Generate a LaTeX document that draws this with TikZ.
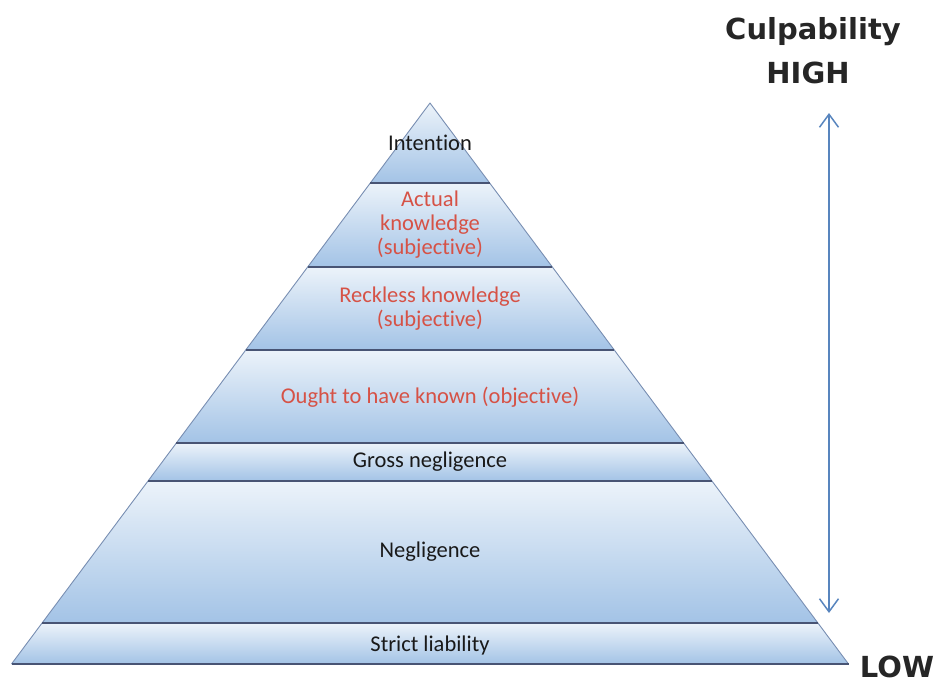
\documentclass[tikz,border=0pt]{standalone}
\usepackage{fontspec}
\setmainfont{Carlito}[Ligatures={NoCommon,NoContextual}]
\newfontfamily\headfont{DejaVu Sans}
\usetikzlibrary{arrows.meta}

\definecolor{bandtop}{RGB}{236,243,250}
\definecolor{bandbot}{RGB}{163,195,230}
\definecolor{bandedge}{RGB}{120,142,178}
\definecolor{bandline}{RGB}{72,84,116}
\definecolor{culpred}{RGB}{214,82,70}
\definecolor{scaleblue}{RGB}{88,133,190}

\tikzset{
  band/.style={top color=bandtop, bottom color=bandbot},
  bandout/.style={draw=bandedge, line width=0.9pt, line join=round},
  sep/.style={draw=bandline, line width=2.2pt},
  lbl/.style={font=\fontsize{22.5}{24}\selectfont, align=center, text=black!90},
  redlbl/.style={lbl, text=culpred},
  head/.style={font=\headfont\bfseries\fontsize{29}{31}\selectfont, text=black!85},
  scale arrow/.style={{Straight Barb[length=13pt,width=19pt]}-{Straight Barb[length=13pt,width=19pt]}, draw=scaleblue, line width=1.5pt}
}

\begin{document}
\begin{tikzpicture}[x=1pt, y=-1pt]
\useasboundingbox (0,0) rectangle (943,685);

% pyramid bands, top to bottom
\shade[band] (430,103) -- (489.7,183) -- (370.3,183) -- cycle;
\shade[band] (370.3,183) -- (489.7,183) -- (552.3,267) -- (307.7,267) -- cycle;
\shade[band] (307.7,267) -- (552.3,267) -- (614.3,350) -- (245.7,350) -- cycle;
\shade[band] (245.7,350) -- (614.3,350) -- (683.6,443) -- (176.4,443) -- cycle;
\shade[band] (176.4,443) -- (683.6,443) -- (712,481) -- (148,481) -- cycle;
\shade[band] (148,481) -- (712,481) -- (817.9,623) -- (42.1,623) -- cycle;
\shade[band] (42.1,623) -- (817.9,623) -- (848.5,664) -- (11.5,664) -- cycle;

% outline and separators
\draw[bandout] (11.5,664) -- (430,103) -- (848.5,664);
\draw[sep] (370.3,183) -- (489.7,183);
\draw[sep] (307.7,267) -- (552.3,267);
\draw[sep] (245.7,350) -- (614.3,350);
\draw[sep] (176.4,443) -- (683.6,443);
\draw[sep] (148,481) -- (712,481);
\draw[sep] (42.1,623) -- (817.9,623);
\draw[sep] (11.5,664) -- (848.5,664);

% labels
\node[lbl] (intention) at (430,143) {Intention};
\node[redlbl] (actual) at (430,225) {Actual\\knowledge\\(subjective)};
\node[redlbl] (reckless) at (430,309) {Reckless knowledge\\(subjective)};
\node[redlbl] (ought) at (430,397) {Ought to have known (objective)};
\node[lbl] (gross) at (430,462) {Gross negligence};
\node[lbl] (negligence) at (430,552) {Negligence};
\node[lbl] (strict) at (430,645) {Strict liability};

% culpability scale
\node[head] (culp) at (813,32) {Culpability};
\node[head] (high) at (808,73) {HIGH};
\node[head] (low) at (897,667) {LOW};
\coordinate (scaletop) at (829,113);
\coordinate (scalebot) at (829,613);
\draw[scale arrow] (scaletop) -- (scalebot);
\end{tikzpicture}
\end{document}
